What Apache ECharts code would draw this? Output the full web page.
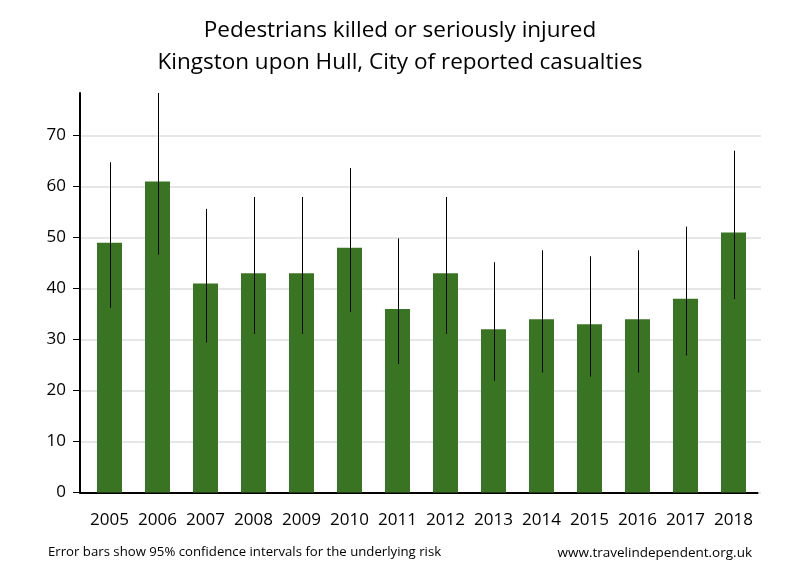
<!DOCTYPE html>
<html>
<head>
<meta charset="utf-8">
<script src="https://cdn.jsdelivr.net/npm/echarts@6/dist/echarts.min.js"></script>
<style>html,body{margin:0;padding:0;background:#fff;}#c{width:800px;height:580px;}</style>
</head>
<body>
<div id="c"></div>
<script>
const years = ['2005','2006','2007','2008','2009','2010','2011','2012','2013','2014','2015','2016','2017','2018'];
const casualties = [49,61,41,43,43,48,36,43,32,34,33,34,38,51];
const lowerCI = [36.25,46.66,29.42,31.12,31.12,35.39,25.21,31.12,21.89,23.55,22.72,23.55,26.89,37.97];
const upperCI = [64.78,78.36,55.62,57.96,57.96,63.64,49.84,57.96,45.17,47.51,46.34,47.51,52.16,67.05];
const yMax = 78.36;
const gridTickMax = 70;

const FONT = 'Open Sans';
const TOP = 93, BOTTOM = 87.5;
const unit = (580 - BOTTOM - TOP) / yMax;
const tickGridTop = 580 - BOTTOM - gridTickMax * unit;

const errData = years.map((y, i) => [i, lowerCI[i], upperCI[i]]);

const chart = echarts.init(document.getElementById('c'), null, {renderer: 'canvas'});
chart.setOption({
  animation: false,
  backgroundColor: '#fff',
  title: [
    {
      text: 'Pedestrians killed or seriously injured\nKingston upon Hull, City of reported casualties',
      left: 400, top: 15, padding: 0, textAlign: 'center',
      textStyle: {fontFamily: FONT, fontSize: 22.5, fontWeight: 'normal', color: '#000', lineHeight: 32, align: 'center'}
    },
    {
      text: 'Error bars show 95% confidence intervals for the underlying risk',
      left: 48, top: 546, padding: 0,
      textStyle: {fontFamily: FONT, fontSize: 13.2, fontWeight: 'normal', color: '#000'}
    },
    {
      text: 'www.travelindependent.org.uk',
      right: 48, top: 546, padding: 0,
      textStyle: {fontFamily: FONT, fontSize: 13.5, fontWeight: 'normal', color: '#000'}
    }
  ],
  grid: [
    {left: 85.5, right: 42.5, top: TOP, bottom: BOTTOM},
    {left: 80, right: 39, top: tickGridTop, bottom: BOTTOM},
    {left: 80, right: 42.5, top: TOP, bottom: BOTTOM}
  ],
  xAxis: [
    {
      type: 'category', gridIndex: 0, data: years,
      axisLine: {show: false}, axisTick: {show: false},
      axisLabel: {fontFamily: FONT, fontSize: 17, color: '#000', margin: 19, interval: 0}
    },
    {type: 'value', gridIndex: 1, min: 0, max: 1, show: false},
    {
      type: 'value', gridIndex: 2, min: 0, max: 1,
      axisLine: {show: true, lineStyle: {color: '#000', width: 2}},
      axisTick: {show: false}, axisLabel: {show: false}, splitLine: {show: false}
    }
  ],
  yAxis: [
    {type: 'value', gridIndex: 0, min: 0, max: yMax, show: false, splitLine: {show: false}},
    {
      type: 'value', gridIndex: 1, min: 0, max: gridTickMax, interval: 10,
      axisLine: {show: false},
      axisTick: {show: true, length: 7, lineStyle: {color: '#000', width: 1}},
      axisLabel: {fontFamily: FONT, fontSize: 17, color: '#000', margin: 14},
      splitLine: {show: true, lineStyle: {color: '#e6e6e6', width: 2}}
    },
    {
      type: 'value', gridIndex: 2, min: 0, max: yMax,
      axisLine: {show: true, lineStyle: {color: '#000', width: 2}},
      axisTick: {show: false}, axisLabel: {show: false}, splitLine: {show: false}
    }
  ],
  series: [
    {
      type: 'bar', xAxisIndex: 0, yAxisIndex: 0, data: casualties,
      barWidth: 25, itemStyle: {color: '#387421'}, z: 2
    },
    {
      type: 'custom', xAxisIndex: 0, yAxisIndex: 0, data: errData, z: 3,
      renderItem: function (params, api) {
        const p1 = api.coord([api.value(0), api.value(1)]);
        const p2 = api.coord([api.value(0), api.value(2)]);
        const x = Math.round(p1[0]) + 0.5;
        return {
          type: 'line',
          shape: {x1: x, y1: p1[1], x2: x, y2: p2[1]},
          style: {stroke: '#000', lineWidth: 1}
        };
      }
    }
  ]
});
</script>
</body>
</html>
